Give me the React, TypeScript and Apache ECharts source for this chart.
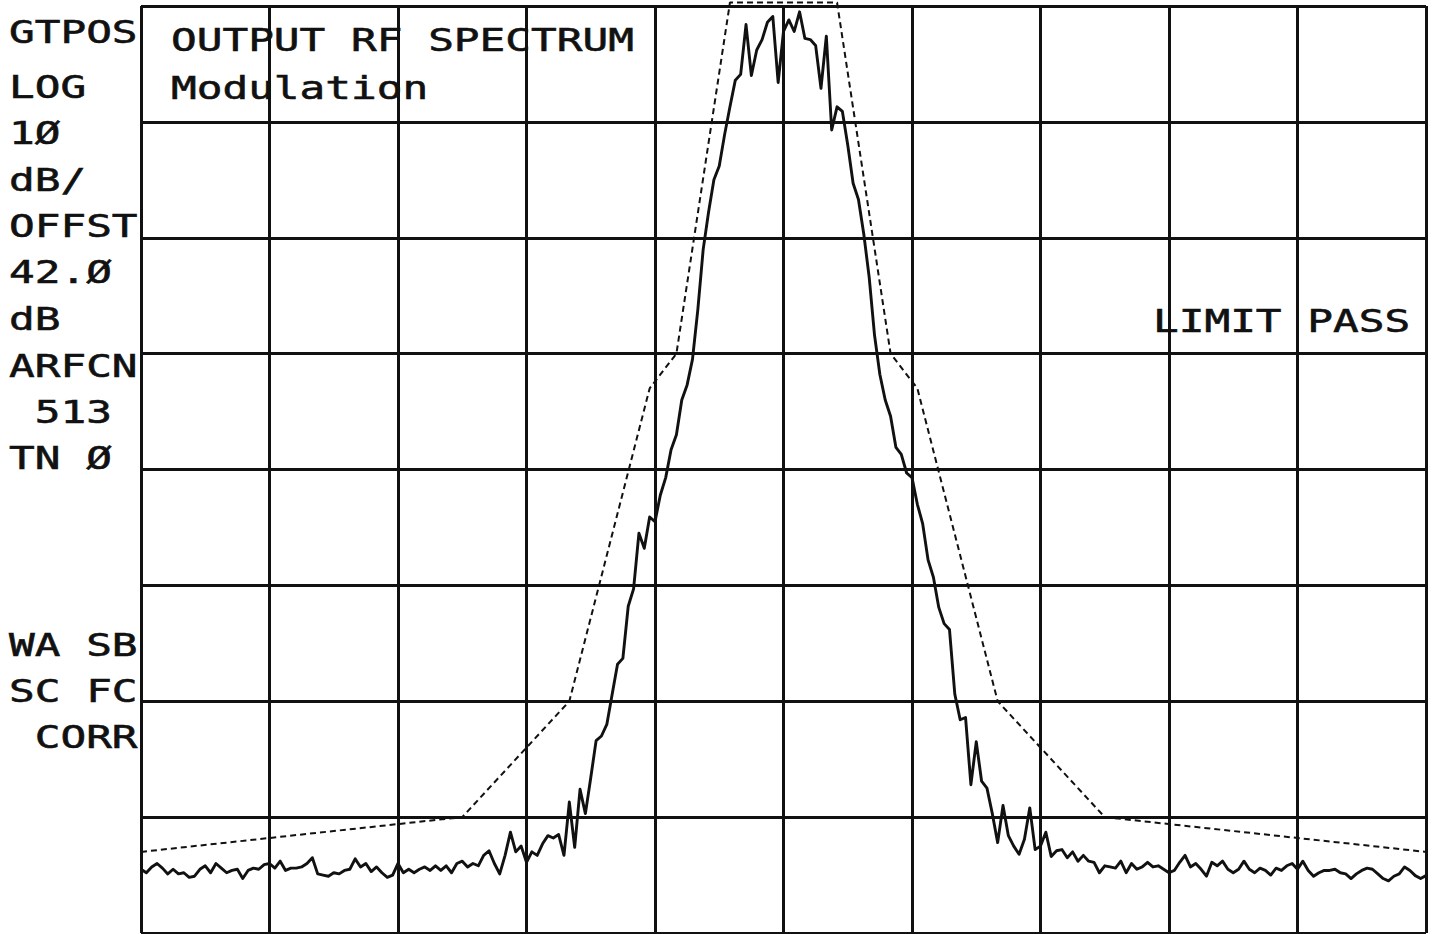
import React, { useEffect, useRef } from "react";
import * as echarts from "echarts";

// Sweep: frequency offset (kHz) of the trace points, 10 kHz per point
const FREQ_START_KHZ = -1200;
const FREQ_STEP_KHZ = 10;

// Measured trace (dB relative to reference line, 10 dB/div)
const TRACE_DB = [
  -74.5, -74.8, -74.3, -74.0, -74.4, -74.9, -74.5, -74.9, -74.8, -75.2,
  -75.1, -74.5, -74.2, -74.8, -74.0, -74.4, -74.8, -74.6, -74.5, -75.3,
  -74.6, -74.4, -74.5, -74.1, -74.0, -74.4, -73.8, -74.6, -74.4, -74.4,
  -74.3, -74.0, -73.5, -74.9, -75.0, -75.1, -74.8, -74.9, -74.6, -74.5,
  -73.6, -74.3, -74.0, -74.7, -74.3, -74.8, -75.2, -75.0, -74.0, -74.8,
  -74.5, -74.8, -74.5, -74.3, -74.6, -74.2, -74.6, -74.2, -74.8, -74.0,
  -73.8, -74.3, -74.0, -74.2, -73.3, -72.9, -74.0, -74.9, -73.3, -71.3,
  -73.0, -72.5, -73.9, -73.0, -73.3, -72.3, -71.6, -71.8, -71.5, -73.3,
  -68.7, -72.6, -67.6, -69.7, -66.6, -63.4, -63.0, -62.0, -59.4, -56.8,
  -56.3, -51.8, -50.3, -45.5, -46.8, -44.1, -44.5, -42.2, -40.7, -38.3,
  -37.0, -34.0, -32.7, -30.5, -26.2, -21.0, -17.8, -15.0, -13.8, -11.1,
  -8.7, -6.4, -5.9, -1.6, -6.0, -3.8, -2.9, -1.4, -0.9, -6.6,
  -2.2, -1.2, -2.2, -0.5, -2.8, -2.9, -3.4, -7.1, -2.6, -10.7,
  -8.7, -9.1, -12.0, -15.3, -16.7, -19.7, -23.4, -28.4, -31.8, -34.0,
  -35.4, -38.1, -38.7, -40.3, -40.7, -43.0, -44.7, -47.8, -49.3, -51.9,
  -53.3, -53.8, -59.4, -61.6, -61.4, -67.2, -63.5, -66.9, -67.5, -69.7,
  -72.2, -69.0, -71.6, -72.5, -73.2, -71.9, -69.2, -72.8, -72.5, -71.3,
  -73.4, -72.9, -72.8, -73.5, -73.0, -73.8, -73.3, -73.8, -73.9, -74.8,
  -74.2, -74.3, -74.4, -73.8, -74.8, -74.0, -74.5, -74.3, -73.9, -74.3,
  -74.2, -74.5, -74.8, -74.6, -73.9, -73.3, -74.3, -74.0, -74.5, -75.1,
  -73.9, -74.2, -73.8, -74.5, -74.8, -74.5, -73.8, -74.5, -74.8, -74.4,
  -74.6, -75.0, -74.4, -74.6, -74.2, -74.0, -74.5, -73.8, -74.6, -75.1,
  -74.8, -74.6, -74.6, -74.5, -74.8, -74.9, -75.3, -74.9, -74.6, -74.4,
  -74.5, -74.9, -75.3, -75.5, -75.1, -74.9, -74.3, -74.6, -75.05, -75.3, -75.05,
];

// Limit mask (dashed)
const MASK_FREQ_KHZ = [-1200, -600, -400, -250, -200, -100, 100, 200, 250, 400, 600, 1200];
const MASK_DB = [-73, -70, -60, -33, -30, 0.3, 0.3, -30, -33, -60, -70, -73];

// Axis ranges
const X_MIN = -1200;
const X_MAX = 1200;
const X_INTERVAL = 240;
const Y_MIN = -80;
const Y_MAX = 0;
const Y_INTERVAL = 10;

// Annotation texts
const SIDE_LABELS = [
  "GTPOS", "LOG", "1Ø", "dB/", "OFFST", "42.Ø", "dB", "ARFCN", " 513", "TN Ø",
  "WA SB", "SC FC", " CORR",
];
const TITLE_LINES = ["OUTPUT RF SPECTRUM", "Modulation"];
const STATUS_TEXT = "LIMIT PASS";

const INK = "#111111";
const FONT_FAMILY = "'DejaVu Sans Mono', 'Liberation Mono', monospace";
const FONT_SIZE = 32;
const SCALE_X = 1.335;
const CHAR_W = FONT_SIZE * 0.602 * SCALE_X;

const SIDE_Y = [32, 87, 133, 180, 226, 272, 319, 366, 412, 458, 645, 691, 737];

function textEl(str: string, x: number, y: number) {
  const lead = str.length - str.replace(/^ +/, "").length;
  return {
    type: "text",
    x: x + lead * CHAR_W,
    y,
    scaleX: SCALE_X,
    z: 10,
    style: {
      text: str.trimStart(),
      fontFamily: FONT_FAMILY,
      fontSize: FONT_SIZE,
      fill: INK,
      stroke: INK,
      lineWidth: 0.6,
      align: "left",
      verticalAlign: "middle",
    },
  };
}

export default function App() {
  const ref = useRef<HTMLDivElement>(null);

  useEffect(() => {
    if (!ref.current) return;
    const chart = echarts.init(ref.current, undefined, { renderer: "svg" });

    const trace = TRACE_DB.map((v, i) => [FREQ_START_KHZ + i * FREQ_STEP_KHZ, v]);
    const mask = MASK_FREQ_KHZ.map((f, i) => [f, MASK_DB[i]]);

    const graphics: any[] = [];
    SIDE_LABELS.forEach((s, i) => graphics.push(textEl(s, 9, SIDE_Y[i])));
    graphics.push(textEl(TITLE_LINES[0], 171, 40));
    graphics.push(textEl(TITLE_LINES[1], 171, 88));
    graphics.push(textEl(STATUS_TEXT, 1153, 321));

    const gridLine = { show: true, lineStyle: { color: INK, width: 3 } };

    chart.setOption({
      animation: false,
      backgroundColor: "#ffffff",
      grid: { left: 141, top: 6, width: 1285, height: 927, containLabel: false },
      xAxis: {
        type: "value",
        min: X_MIN,
        max: X_MAX,
        interval: X_INTERVAL,
        axisLabel: { show: false },
        axisTick: { show: false },
        axisLine: { show: false },
        splitLine: gridLine,
      },
      yAxis: {
        type: "value",
        min: Y_MIN,
        max: Y_MAX,
        interval: Y_INTERVAL,
        axisLabel: { show: false },
        axisTick: { show: false },
        axisLine: { show: false },
        splitLine: gridLine,
      },
      series: [
        {
          type: "line",
          data: mask,
          symbol: "none",
          clip: false,
          lineStyle: { color: INK, width: 2, type: [6, 4] },
          z: 3,
        },
        {
          type: "line",
          data: trace,
          symbol: "none",
          lineStyle: { color: INK, width: 2.9, join: "round" },
          z: 4,
        },
      ],
      graphic: graphics,
    });

    return () => chart.dispose();
  }, []);

  return (
    <div
      ref={ref}
      style={{ position: "fixed", left: 0, top: 0, width: 1437, height: 934, background: "#fff" }}
    />
  );
}
